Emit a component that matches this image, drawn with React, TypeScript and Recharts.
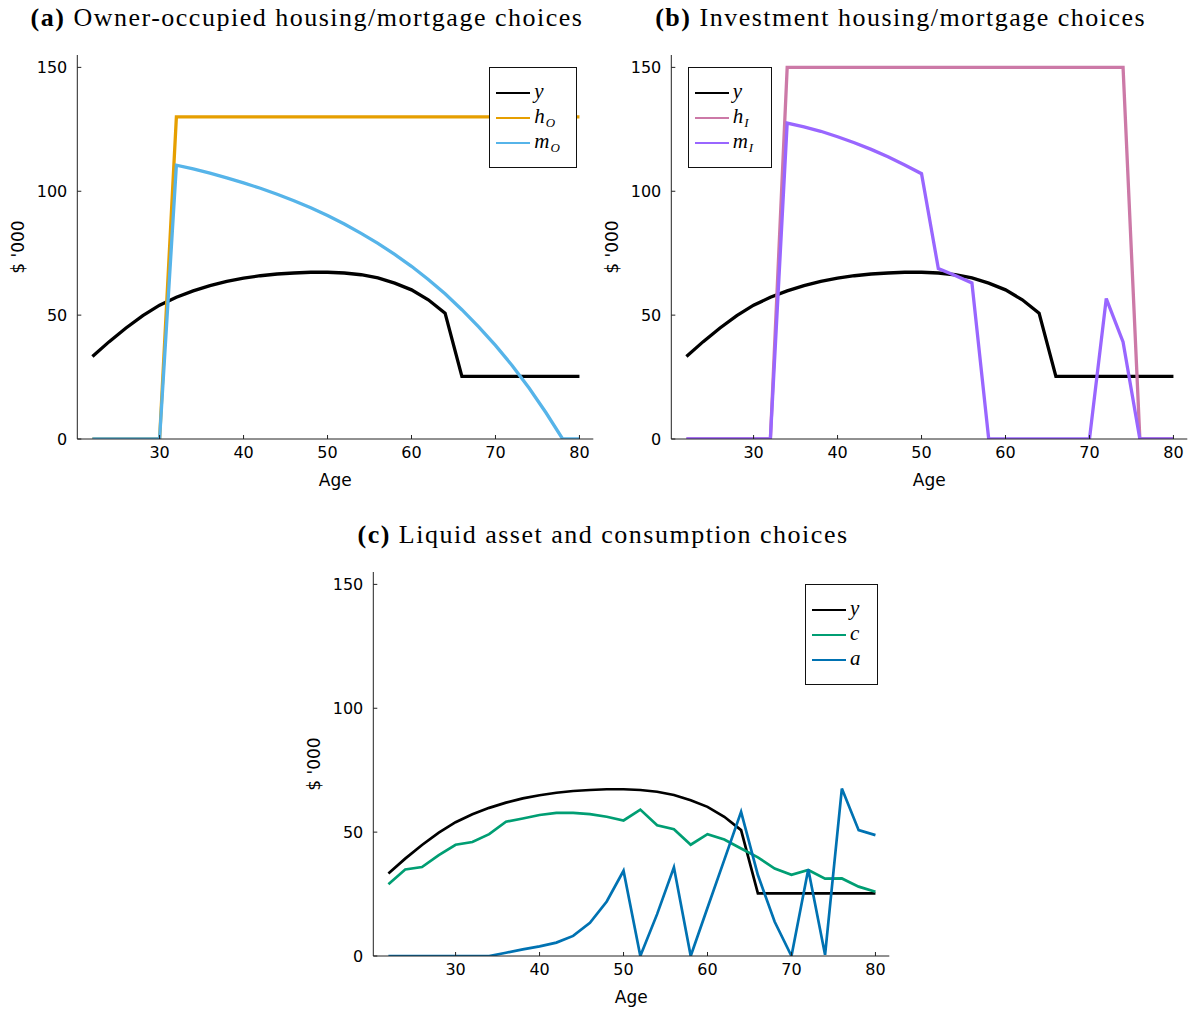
import React from 'react';
import { LineChart, Line, XAxis, YAxis, Legend, Label } from 'recharts';

// ages on the horizontal axis, two-year steps
const AGES = [22, 24, 26, 28, 30, 32, 34, 36, 38, 40, 42, 44, 46, 48, 50, 52, 54, 56, 58, 60, 62, 64, 66, 68, 70, 72, 74, 76, 78, 80];

// labour income y, shared by all three panels ($ '000)
const INCOME = [33.3, 39.3, 44.8, 49.8, 54.0, 57.2, 59.8, 61.9, 63.6, 64.9, 65.9, 66.6, 67.0, 67.3, 67.3, 67.0, 66.3, 65.0, 62.9, 60.2, 56.2, 50.8, 25.3, 25.3, 25.3, 25.3, 25.3, 25.3, 25.3, 25.3];

// (a) owner-occupied house and mortgage
const OWNER_HOUSE = [0, 0, 0, 0, 0, 130, 130, 130, 130, 130, 130, 130, 130, 130, 130, 130, 130, 130, 130, 130, 130, 130, 130, 130, 130, 130, 130, 130, 130, 130];
const OWNER_MORTGAGE = [0, 0, 0, 0, 0, 110.5, 109.0, 107.3, 105.4, 103.4, 101.2, 98.8, 96.2, 93.3, 90.2, 86.8, 83.0, 79.0, 74.5, 69.7, 64.4, 58.6, 52.2, 45.3, 37.8, 29.6, 20.6, 10.7, 0, 0];

// (b) investment house and mortgage
const INVEST_HOUSE = [0, 0, 0, 0, 0, 0, 150, 150, 150, 150, 150, 150, 150, 150, 150, 150, 150, 150, 150, 150, 150, 150, 150, 150, 150, 150, 150, 0, 0, 0];
const INVEST_MORTGAGE = [0, 0, 0, 0, 0, 0, 127.5, 126.0, 124.2, 122.0, 119.6, 116.9, 113.9, 110.6, 107.1, 68.8, 66.0, 63.0, 0, 0, 0, 0, 0, 0, 0, 56.7, 39.2, 0, 0, 0];

// (c) consumption and liquid assets
const CONSUMPTION = [29.0, 34.9, 35.9, 40.7, 44.9, 46.0, 49.2, 54.2, 55.5, 56.9, 57.8, 57.8, 57.3, 56.2, 54.7, 59.1, 52.8, 51.2, 44.9, 49.2, 47.0, 43.4, 39.8, 35.3, 32.8, 34.7, 31.2, 31.3, 28.0, 25.9];
const LIQUID_ASSETS = [0, 0, 0, 0, 0, 0, 0, 1.3, 2.7, 3.9, 5.4, 8.1, 13.4, 22.0, 34.4, 0, 16.9, 35.8, 0, 19.5, 38.8, 58.2, 32.7, 13.8, 0, 35.0, 0.5, 67.6, 50.8, 48.8];

const X_TICKS = [30, 40, 50, 60, 70, 80];
const Y_TICKS = [0, 50, 100, 150];

const rows = AGES.map((age, i) => ({
  age,
  y: INCOME[i],
  hO: OWNER_HOUSE[i],
  mO: OWNER_MORTGAGE[i],
  hI: INVEST_HOUSE[i],
  mI: INVEST_MORTGAGE[i],
  c: CONSUMPTION[i],
  a: LIQUID_ASSETS[i],
}));

type Series = { key: string; color: string; sym: string; sub?: string };

const SANS = '"DejaVu Sans", sans-serif';
const SERIF = '"Liberation Serif", serif';

const SeriesKey = ({ series, width }: { series: Series[]; width: number }) => (
  <div
    style={{
      width,
      height: 101,
      boxSizing: 'border-box',
      border: '1px solid #111',
      background: '#fff',
      position: 'relative',
    }}
  >
    {series.map((s, i) => (
      <div key={s.key} style={{ position: 'absolute', left: 0, top: 25 + i * 25 - 12, height: 24, width: '100%' }}>
        <svg width={44} height={24} style={{ position: 'absolute', left: 0, top: 0 }}>
          <line x1={6} x2={40} y1={12} y2={12} stroke={s.color} strokeWidth={2} />
        </svg>
        <span
          style={{
            position: 'absolute',
            left: 44,
            top: 0,
            lineHeight: '20px',
            fontFamily: SERIF,
            fontStyle: 'italic',
            fontSize: 21,
            color: '#000',
            whiteSpace: 'nowrap',
          }}
        >
          {s.sym}
          {s.sub && (
            <span style={{ fontSize: 13, lineHeight: '13px', position: 'relative', top: 4, marginLeft: 1 }}>{s.sub}</span>
          )}
        </span>
      </div>
    ))}
  </div>
);

type PanelProps = {
  left: number;
  top: number;
  tag: string;
  title: string;
  series: Series[];
  lineWidth: number;
  keyLeft: number;
  keyWidth: number;
};

const Panel = ({ left, top, tag, title, series, lineWidth, keyLeft, keyWidth }: PanelProps) => (
  <div style={{ position: 'absolute', left, top, width: 600, height: 500 }}>
    <LineChart width={600} height={500} data={rows} margin={{ top: 55, right: 6.7, bottom: 31, left: 37.3 }}>
      <XAxis
        dataKey="age"
        type="number"
        domain={[20.2, 81.65]}
        ticks={X_TICKS}
        interval={0}
        allowDataOverflow
        height={30}
        tickSize={-4}
        tickMargin={12}
        axisLine={{ stroke: '#222' }}
        tickLine={{ stroke: '#222' }}
        tick={{ fill: '#000', fontSize: 16, fontFamily: SANS }}
      >
        <Label value="Age" position="bottom" offset={5} style={{ fill: '#000', fontSize: 17, fontFamily: SANS }} />
      </XAxis>
      <YAxis
        type="number"
        domain={[0, 155]}
        ticks={Y_TICKS}
        interval={0}
        allowDataOverflow
        width={40}
        tickSize={-4}
        tickMargin={14}
        axisLine={{ stroke: '#222' }}
        tickLine={{ stroke: '#222' }}
        tick={{ fill: '#000', fontSize: 16, fontFamily: SANS }}
      >
        <Label
          value="$ '000"
          angle={-90}
          position="insideLeft"
          offset={-19.3}
          style={{ fill: '#000', fontSize: 17, fontFamily: SANS, textAnchor: 'middle' }}
        />
      </YAxis>
      <Legend
        layout="vertical"
        align="center"
        verticalAlign="middle"
        wrapperStyle={{ left: keyLeft, top: 67.3, width: keyWidth, height: 101 }}
        content={() => <SeriesKey series={series} width={keyWidth} />}
      />
      {series.map((s) => (
        <Line
          key={s.key}
          type="linear"
          dataKey={s.key}
          stroke={s.color}
          strokeWidth={lineWidth}
          dot={false}
          activeDot={false}
          isAnimationActive={false}
        />
      ))}
    </LineChart>
    <div
      style={{
        position: 'absolute',
        left: 0,
        top: 0,
        width: 614,
        height: 36,
        lineHeight: '36px',
        textAlign: 'center',
        fontFamily: SERIF,
        fontSize: 26,
        letterSpacing: 1.5,
        color: '#000',
        whiteSpace: 'nowrap',
      }}
    >
      <b>({tag})</b> {title}
    </div>
  </div>
);

const INCOME_SERIES: Series = { key: 'y', color: '#000000', sym: 'y' };

export default function App() {
  return (
    <div style={{ position: 'absolute', left: 0, top: 0, width: 1190, height: 1009, overflow: 'hidden', background: '#fff' }}>
      <Panel
        left={0}
        top={0}
        tag="a"
        title="Owner-occupied housing/mortgage choices"
        lineWidth={3.3}
        keyLeft={489.3}
        keyWidth={88}
        series={[
          INCOME_SERIES,
          { key: 'hO', color: '#E69F00', sym: 'h', sub: 'O' },
          { key: 'mO', color: '#56B4E9', sym: 'm', sub: 'O' },
        ]}
      />
      <Panel
        left={593.7}
        top={0}
        tag="b"
        title="Investment housing/mortgage choices"
        lineWidth={3.3}
        keyLeft={94}
        keyWidth={84.6}
        series={[
          INCOME_SERIES,
          { key: 'hI', color: '#CC79A7', sym: 'h', sub: 'I' },
          { key: 'mI', color: '#9966FF', sym: 'm', sub: 'I' },
        ]}
      />
      <Panel
        left={296}
        top={517}
        tag="c"
        title="Liquid asset and consumption choices"
        lineWidth={2.7}
        keyLeft={509}
        keyWidth={72.7}
        series={[
          INCOME_SERIES,
          { key: 'c', color: '#009E73', sym: 'c' },
          { key: 'a', color: '#0072B2', sym: 'a' },
        ]}
      />
    </div>
  );
}
